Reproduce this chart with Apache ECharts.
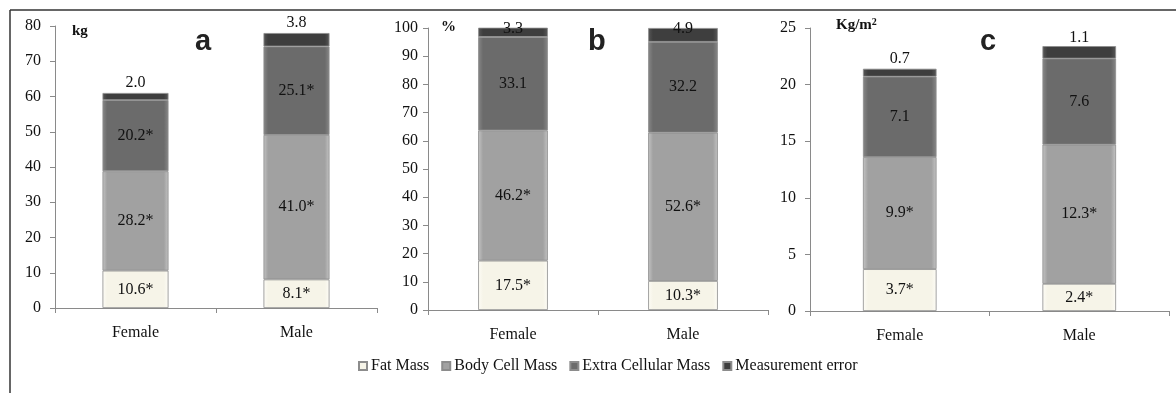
<!DOCTYPE html>
<html><head><meta charset="utf-8">
<script src="https://cdn.jsdelivr.net/npm/echarts@6/dist/echarts.min.js"></script>
<style>html,body{margin:0;padding:0;background:#fff}#c{width:1176px;height:393px}</style>
</head><body><div id="c"></div>
<script>
const categories = ['Female', 'Male'];
const seriesNames = ['Fat Mass', 'Body Cell Mass', 'Extra Cellular Mass', 'Measurement error'];

// Panel a (kg)
const kgFat = [10.6, 8.1];
const kgBCM = [28.2, 41.0];
const kgECM = [20.2, 25.1];
const kgErr = [2.0, 3.8];
const kgStars = [[true, true], [true, true], [true, true], [false, false]];

// Panel b (%)
const pctFat = [17.5, 10.3];
const pctBCM = [46.2, 52.6];
const pctECM = [33.1, 32.2];
const pctErr = [3.3, 4.9];
const pctStars = [[true, true], [true, true], [false, false], [false, false]];

// Panel c (kg/m2)
const idxFat = [3.7, 2.4];
const idxBCM = [9.9, 12.3];
const idxECM = [7.1, 7.6];
const idxErr = [0.7, 1.1];
const idxStars = [[true, true], [true, true], [false, false], [false, false]];

const yMax = [80, 100, 25];
const yInterval = [10, 10, 5];

const colors = ['#f6f4e8', '#a1a1a1', '#6b6b6b', '#3e3e3e'];
const edge = ['#fdfcf6', '#c4c4c4', '#888888', '#585858'];

const serif = '"Liberation Serif", "DejaVu Serif", serif';
// vertical shift of the top labels (kept inside the plot area, as in the source)
const topLabelShift = [[0, 0], [11, 11], [0, 2]];

function grad(i) {
  return new echarts.graphic.LinearGradient(0, 0, 1, 0, [
    {offset: 0, color: edge[i]},
    {offset: 0.07, color: colors[i]},
    {offset: 0.93, color: colors[i]},
    {offset: 1, color: edge[i]}
  ]);
}

const panels = [
  {data: [kgFat, kgBCM, kgECM, kgErr], stars: kgStars},
  {data: [pctFat, pctBCM, pctECM, pctErr], stars: pctStars},
  {data: [idxFat, idxBCM, idxECM, idxErr], stars: idxStars}
];

const grids = [
  {left: 55, top: 26, width: 322, height: 282},
  {left: 428, top: 28, width: 340, height: 282},
  {left: 810, top: 28, width: 359, height: 283}
];
const yMargins = [14, 10, 14];

const series = [];
panels.forEach((p, pi) => {
  p.data.forEach((vals, si) => {
    series.push({
      name: seriesNames[si],
      type: 'bar',
      stack: 'p' + pi,
      xAxisIndex: pi,
      yAxisIndex: pi,
      barWidth: '41%',
      color: colors[si],
      itemStyle: {color: grad(si), borderColor: '#8c8c8c', borderWidth: 0.8},
      label: {
        show: true,
        position: si === 3 ? 'top' : 'inside',
        distance: 2,
        fontFamily: serif,
        fontSize: 16,
        color: '#111',
        formatter: (d) => d.value.toFixed(1) + (p.stars[si][d.dataIndex] ? '*' : '')
      },
      data: vals.map((v, di) => si === 3
        ? {value: v, label: {offset: [0, topLabelShift[pi][di]]}}
        : v)
    });
  });
});

const option = {
  animation: false,
  backgroundColor: '#fff',
  grid: grids,
  xAxis: grids.map((g, i) => ({
    type: 'category', gridIndex: i, data: categories,
    axisLine: {lineStyle: {color: '#8a8a8a', width: 1}},
    axisTick: {show: true, length: 5, lineStyle: {color: '#8a8a8a'}},
    axisLabel: {fontFamily: serif, fontSize: 16, color: '#111', margin: 17}
  })),
  yAxis: grids.map((g, i) => ({
    type: 'value', gridIndex: i, min: 0, max: yMax[i], interval: yInterval[i],
    axisLine: {show: true, lineStyle: {color: '#8a8a8a', width: 1}},
    axisTick: {show: true, length: 5, lineStyle: {color: '#8a8a8a'}},
    splitLine: {show: false},
    axisLabel: {fontFamily: serif, fontSize: 16, color: '#111', margin: yMargins[i]}
  })),
  legend: {
    data: seriesNames,
    left: 353, top: 353,
    itemWidth: 8, itemHeight: 8, itemGap: 12,
    icon: 'rect',
    textStyle: {fontFamily: serif, fontSize: 16, color: '#111', padding: [0, 0, 0, -1]}
  },
  graphic: [
    {type: 'line', shape: {x1: 10, y1: 10, x2: 1176, y2: 10}, style: {stroke: '#333', lineWidth: 1.5}},
    {type: 'line', shape: {x1: 10, y1: 10, x2: 10, y2: 393}, style: {stroke: '#333', lineWidth: 1.5}},
    {type: 'text', left: 72, top: 24, style: {text: 'kg', font: 'bold 15px ' + serif, fill: '#111'}},
    {type: 'text', left: 441, top: 20, style: {text: '%', font: 'bold 15px ' + serif, fill: '#111'}},
    {type: 'text', left: 836, top: 17, style: {
      text: '{b|Kg/m}{s|2}', rich: {
        b: {font: 'bold 15px ' + serif, fill: '#111', color: '#111', verticalAlign: 'bottom'},
        s: {font: 'bold 10px ' + serif, fill: '#111', color: '#111', verticalAlign: 'top', padding: [0, 0, 6, 0]}
      }}},
    {type: 'text', left: 195, top: 27, style: {text: 'a', font: 'bold 29px "Liberation Sans", Arial, sans-serif', fill: '#222'}},
    {type: 'text', left: 588, top: 27, style: {text: 'b', font: 'bold 29px "Liberation Sans", Arial, sans-serif', fill: '#222'}},
    {type: 'text', left: 980, top: 27, style: {text: 'c', font: 'bold 29px "Liberation Sans", Arial, sans-serif', fill: '#222'}}
  ],
  series: series
};

const chart = echarts.init(document.getElementById('c'));
chart.setOption(option);
</script>
</body></html>
